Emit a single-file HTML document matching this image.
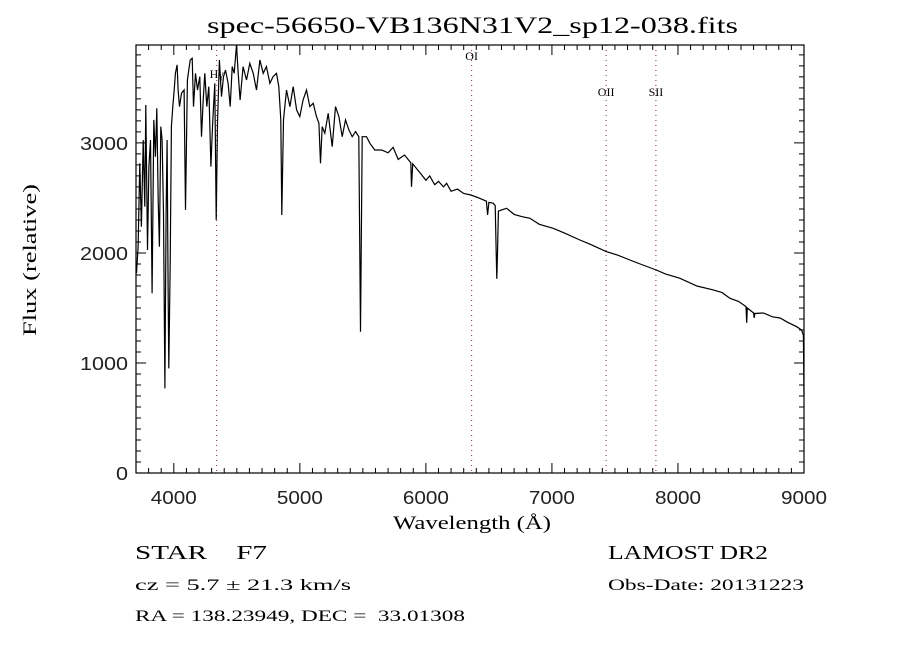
<!DOCTYPE html>
<html><head><meta charset="utf-8"><style>
body{margin:0;background:#fff;}
svg{display:block;}
.t{font-family:"Liberation Serif",serif;fill:#000;}
.s{font-family:"Liberation Sans",sans-serif;fill:#222;font-size:18px;}
</style></head><body>
<svg id="c" width="900" height="650" viewBox="0 0 900 650">
<rect width="900" height="650" fill="#fff"/>
<text class="t" x="207" y="33" font-size="23" textLength="531" lengthAdjust="spacingAndGlyphs">spec-56650-VB136N31V2_sp12-038.fits</text>
<text class="t" x="393" y="529" font-size="19" textLength="158" lengthAdjust="spacingAndGlyphs">Wavelength (Å)</text>
<text class="t" x="0" y="0" font-size="19" text-anchor="middle" textLength="152" lengthAdjust="spacingAndGlyphs" transform="translate(36,260) rotate(-90)">Flux (relative)</text>
<g id="ticks"></g>
<g id="lines"></g>
<path id="spec" fill="none" stroke="#000" stroke-width="1.2"/>
<rect x="136" y="45" width="668" height="428" fill="none" stroke="#000" stroke-width="1.2"/>
<text class="t" x="135" y="559" font-size="20" textLength="132" lengthAdjust="spacingAndGlyphs">STAR&#160;&#160;&#160;&#160;F7</text>
<text class="t" x="135" y="590" font-size="16" textLength="216" lengthAdjust="spacingAndGlyphs">cz = 5.7 ± 21.3 km/s</text>
<text class="t" x="135" y="621" font-size="16" textLength="330" lengthAdjust="spacingAndGlyphs">RA = 138.23949, DEC =&#160;&#160;33.01308</text>
<text class="t" x="608" y="559" font-size="20" textLength="160" lengthAdjust="spacingAndGlyphs">LAMOST DR2</text>
<text class="t" x="608" y="590" font-size="16" textLength="196" lengthAdjust="spacingAndGlyphs">Obs-Date: 20131223</text>
</svg>
<script>
const xTicks=[4000,5000,6000,7000,8000,9000];
const yTicks=[0,1000,2000,3000];
const lineNames=["Hγ","OI","OII","SII"];
const lineWaves=[4340,6363,7430,7825];
const wave=[3704,3717,3730,3743,3757,3770,3778,3791,3802,3815,3828,3841,3854,3865,3876,3886,3897,3907,3918,3929,3939,3947,3955,3960,3971,3981,3992,4003,4013,4026,4034,4045,4061,4082,4093,4108,4130,4146,4156,4172,4188,4206,4220,4233,4246,4262,4278,4294,4307,4325,4336,4347,4362,4378,4394,4410,4431,4447,4463,4479,4497,4511,4526,4550,4577,4603,4630,4656,4683,4709,4735,4762,4788,4815,4833,4849,4857,4870,4894,4921,4947,4974,5000,5026,5053,5079,5106,5132,5151,5164,5177,5198,5225,5257,5283,5310,5336,5362,5389,5415,5442,5468,5481,5495,5529,5556,5595,5648,5700,5740,5780,5830,5880,5886,5895,5930,5960,6000,6030,6070,6100,6140,6164,6200,6250,6300,6357,6420,6480,6490,6500,6534,6550,6558,6563,6568,6575,6640,6700,6760,6825,6900,7010,7100,7222,7300,7431,7520,7619,7700,7828,7900,8016,8150,8280,8350,8413,8480,8540,8545,8550,8600,8605,8610,8677,8750,8810,8870,8942,8981,8995,9000];
const flux=[1815,2057,2815,2239,3027,2421,3345,2027,2785,3027,1633,3209,2875,3315,2481,2057,3148,3027,2360,769,2360,3027,1694,951,1906,3148,3330,3481,3633,3709,3481,3330,3451,3481,2391,3572,3754,3769,3330,3633,3481,3603,3057,3391,3633,3330,3512,2785,3148,3542,2300,3178,3754,3421,3603,3663,3542,3330,3694,3633,3891,3633,3391,3694,3572,3724,3633,3481,3754,3633,3694,3542,3603,3633,3512,3209,2345,3209,3481,3330,3512,3300,3239,3391,3481,3330,3360,3239,3178,2815,3148,3088,3269,2966,3330,3239,3057,3209,3118,3057,3103,3057,1284,3057,3057,2997,2936,2936,2910,2960,2850,2890,2820,2600,2810,2760,2720,2660,2700,2620,2650,2600,2633,2560,2580,2540,2527,2500,2470,2345,2460,2452,2430,2000,1764,2000,2380,2406,2350,2330,2315,2260,2224,2180,2118,2080,2012,1980,1936,1900,1845,1810,1770,1700,1664,1640,1588,1560,1512,1364,1500,1454,1410,1450,1454,1420,1409,1370,1330,1300,1250,700];
const X0=136,X1=804,Y0=473,Y1=45,XMIN=3700,XMAX=9000,YMIN=0,YMAX=3890;
const sx=v=>X0+(v-XMIN)/(XMAX-XMIN)*(X1-X0);
const sy=v=>Y0-(v-YMIN)/(YMAX-YMIN)*(Y0-Y1);
const NS="http://www.w3.org/2000/svg";
function mk(tag,attrs,parent){const e=document.createElementNS(NS,tag);for(const k in attrs)e.setAttribute(k,attrs[k]);parent.appendChild(e);return e;}
const tg=document.getElementById('ticks');
let d="";
for(let w=3700;w<=9000;w+=100){const x=sx(w);const L=(w%1000===0)?10:5;d+=`M${x} ${Y0}v${-L}M${x} ${Y1}v${L}`;}
for(let f=0;f<=3800;f+=100){const y=sy(f);const L=(f%1000===0)?10:5;d+=`M${X0} ${y}h${L}M${X1} ${y}h${-L}`;}
const tp=mk('path',{d:d,stroke:'#000','stroke-width':1,fill:'none'},tg);


xTicks.forEach(v=>{const t=mk('text',{x:sx(v),y:504,'text-anchor':'middle',class:'s',textLength:46,lengthAdjust:'spacingAndGlyphs'},tg);t.textContent=v;

});
yTicks.forEach(v=>{const s=String(v);const t=mk('text',{x:128,y:sy(v)+7,'text-anchor':'end',class:'s',textLength:s.length*12,lengthAdjust:'spacingAndGlyphs'},tg);t.textContent=s;

});
const lg=document.getElementById('lines');
const labY=[78,60,96,96];
lineWaves.forEach((w,i)=>{const x=sx(w);
const l=mk('line',{x1:x,x2:x,y1:Y1,y2:Y0,stroke:'#8b2a2a','stroke-width':1,'stroke-dasharray':'1,4'},lg);


const t=mk('text',{x:x,y:labY[i],'text-anchor':'middle',class:'t','font-size':12},lg);t.textContent=lineNames[i];

});
let p="";wave.forEach((w,i)=>{p+=(i?"L":"M")+sx(w).toFixed(1)+" "+sy(flux[i]).toFixed(1);});
document.getElementById('spec').setAttribute('d',p);
</script>
</body></html>
